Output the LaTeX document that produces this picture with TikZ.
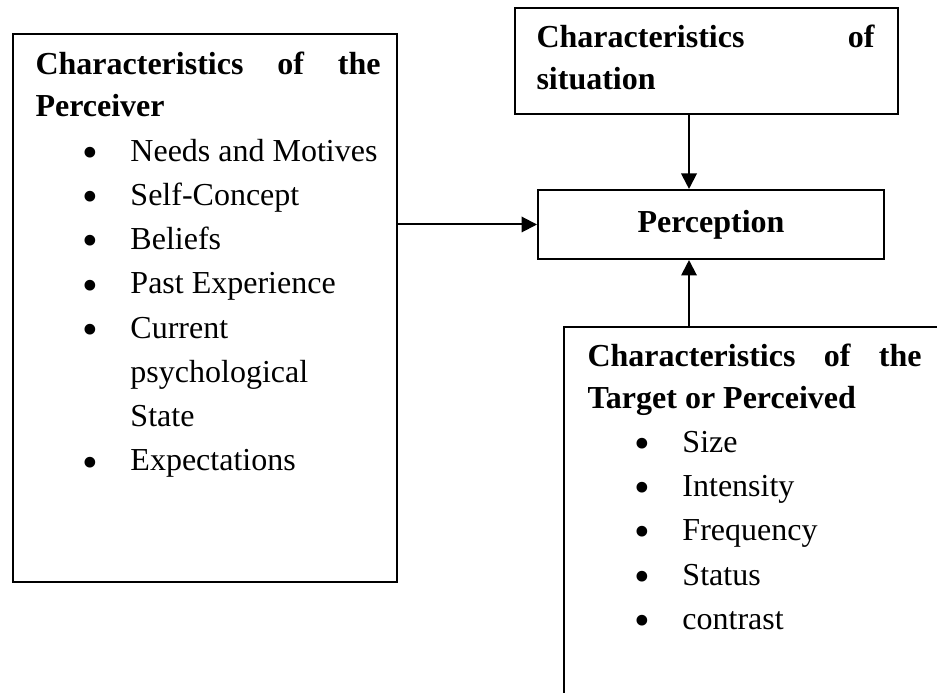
\documentclass[tikz,border=0pt]{standalone}
\usepackage{fontspec}
\setmainfont{Liberation Serif}
\usetikzlibrary{arrows.meta}
\newcommand{\bul}{\hspace*{17.6pt}\makebox[18pt][l]{\raisebox{-2.3pt}{\scalebox{1.4}{\textbullet}}}}
\newcommand{\subline}{\hspace*{35.6pt}}

\begin{document}
\begin{tikzpicture}[x=0.375pt, y=-0.375pt, >={Triangle[length=5.8pt,width=5.8pt]},
  box/.style={draw, line width=0.75pt, inner sep=0pt},
  txt/.style={inner sep=0pt, anchor=base west, font=\fontsize{12pt}{16.6pt}\selectfont}]
  \clip (0,0) rectangle (937,693);
  % boxes
  \node[box, minimum width=144pt, minimum height=205.5pt]   (perceiver)  at (205,308)   {};
  \node[box, minimum width=143.6pt, minimum height=39.75pt] (situation)  at (706.5,61)  {};
  \node[box, minimum width=129.75pt, minimum height=25.9pt, font=\fontsize{12pt}{14pt}\selectfont\bfseries]
    (perception) at (711,224.5) {Perception};
  \node[box, minimum width=144.75pt, minimum height=147.4pt] (target)    at (757,523.5) {};
  % texts
  \node[txt] (perceivertext) at (35,75) {\begin{tabular}[t]{@{}l@{}}
    \makebox[129.4pt][s]{\bfseries Characteristics of the}\\[-0.9pt]
    \textbf{Perceiver}\\
    \bul Needs and Motives\\
    \bul Self-Concept\\
    \bul Beliefs\\
    \bul Past Experience\\
    \bul Current\\
    \subline psychological\\
    \subline State\\
    \bul Expectations
  \end{tabular}};
  \node[txt] (situationtext) at (536,48) {\begin{tabular}[t]{@{}l@{}}
    \makebox[126.75pt][s]{\bfseries Characteristics of}\\[-0.9pt]
    \textbf{situation}
  \end{tabular}};
  \node[txt] (targettext) at (587,367) {\begin{tabular}[t]{@{}l@{}}
    \makebox[125.25pt][s]{\bfseries Characteristics of the}\\[-1.2pt]
    \textbf{Target or Perceived}\\
    \bul Size\\
    \bul Intensity\\
    \bul Frequency\\
    \bul Status\\
    \bul contrast
  \end{tabular}};
  % connectors
  \coordinate (vx) at (689,0);
  \draw[->, line width=0.75pt] (situation.south -| vx) -- (perception.north -| vx);
  \draw[->, line width=0.75pt] (target.north -| vx) -- (perception.south -| vx);
  \draw[->, line width=0.75pt] (perceiver.east |- perception.west) -- (perception.west);
\end{tikzpicture}
\end{document}
